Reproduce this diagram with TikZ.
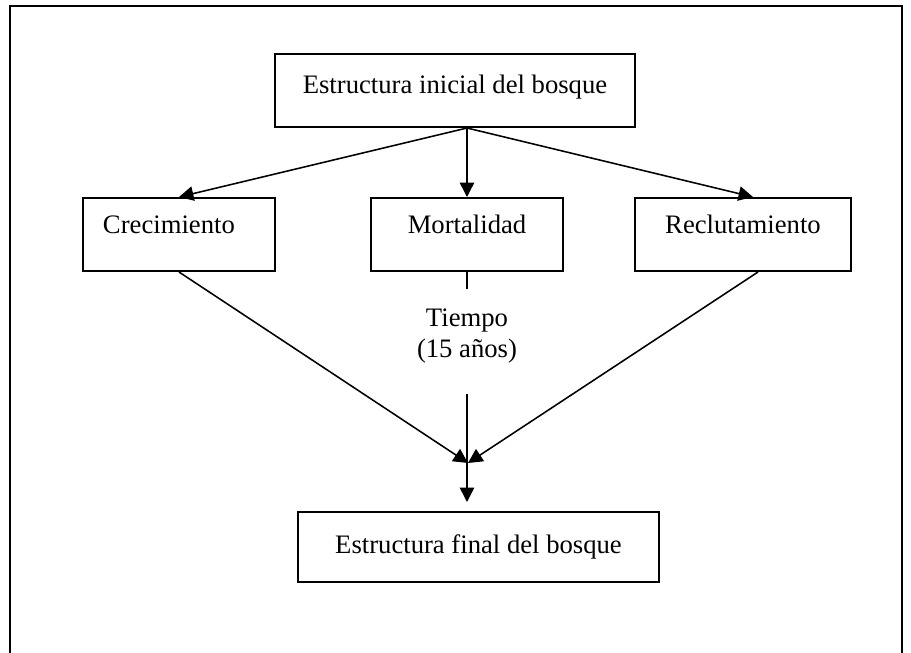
\documentclass[tikz,border=0pt]{standalone}
\usepackage{fontspec}
\setmainfont{Liberation Serif}
\usetikzlibrary{arrows.meta, positioning, calc}

\begin{document}
\begin{tikzpicture}[x=0.45pt, y=-0.45pt, >={Triangle[length=6.5pt, width=6.5pt]},
  caja/.style={draw, line width=0.9pt, inner sep=0pt, font=\fontsize{12}{14}\selectfont},
  flecha/.style={line width=0.7pt}]
\useasboundingbox (0,0) rectangle (911,653);
% marco
\draw[line width=0.9pt] (10,653) -- (10,6) -- (902,6) -- (902,653);

\node[caja, minimum width=162pt, text height=17.55pt, text depth=15.3pt] (inicio) at (455,90.5) {Estructura inicial del bosque};
\node[caja, text width=68.4pt, align=left, inner xsep=9pt, text height=15.75pt, text depth=17.1pt] (crec) at (179,234.5) {Crecimiento};
\node[caja, minimum width=86.4pt, text height=15.75pt, text depth=17.1pt] (mort) at (467,234.5) {Mortalidad};
\node[caja, minimum width=97.2pt, text height=15.75pt, text depth=17.1pt] (recl) at (743,234.5) {Reclutamiento};
\node[caja, minimum width=162.45pt, text height=18.45pt, text depth=13.05pt] (final) at (478.5,547) {Estructura final del bosque};
\node[align=center, inner sep=0pt, font=\fontsize{12}{14}\selectfont] (tiempo) at (467,336) {Tiempo\\(15 años)};

\coordinate (union) at (468,463);
\coordinate (llegada) at (468,502);

\draw[->, flecha] (inicio.south -| mort.north) -- (crec.north);
\draw[->, flecha] (inicio.south -| mort.north) -- (mort.north);
\draw[->, flecha] (inicio.south -| mort.north) -- ([xshift=4.5pt]recl.north);
\draw[flecha, shorten >=8.5pt] (mort.south) -- (tiempo.north);
\draw[->, flecha, shorten <=13.5pt] (tiempo.south) -- (tiempo.south |- llegada);
\draw[->, flecha] (crec.south) -- (union);
\draw[->, flecha] ([xshift=6.75pt]recl.south) -- (union);
\end{tikzpicture}
\end{document}
